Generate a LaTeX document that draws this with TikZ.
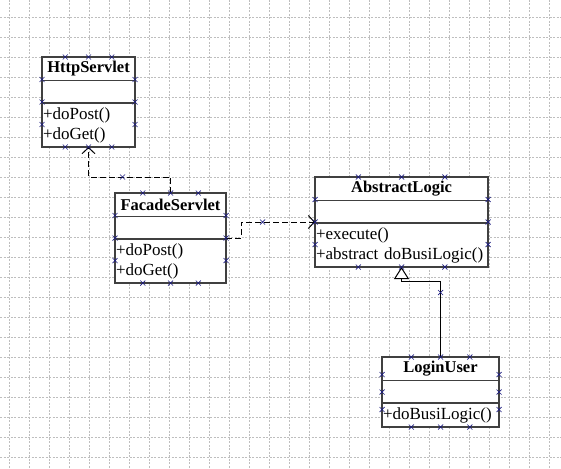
\documentclass[tikz,border=0pt]{standalone}
\usepackage{fontspec}
\setmainfont{Liberation Serif}
\usetikzlibrary{positioning}
\usetikzlibrary{calc}
\usetikzlibrary{arrows.meta}
\usetikzlibrary{decorations.markings}
\usetikzlibrary{fit}
\definecolor{boxgray}{RGB}{64,64,64}
\definecolor{handleblue}{RGB}{28,28,128}
\definecolor{gridgray}{RGB}{190,190,190}

\tikzset{
    handle/.style={draw=handleblue, line width=0.7pt, solid, -},
    midhandle/.style={postaction={decorate}, decoration={markings,
        mark=at position 0.5 with {\draw[handle] (-2.5,-2.5) -- (2.5,2.5) (-2.5,2.5) -- (2.5,-2.5);}}},
}
\newcommand{\handlemark}[1]{\draw[handle] (#1) +(-2.5,-2.5) -- +(2.5,2.5) +(-2.5,2.5) -- +(2.5,-2.5);}

\begin{document}
\begin{tikzpicture}[x=1pt, y=-1pt,
    every node/.style={font=\fontsize{17}{20}\selectfont, inner sep=0pt, outer sep=0pt},
    classname/.style={draw=boxgray, line width=1.3pt, fill=white, font=\fontsize{16.5}{20}\selectfont\bfseries, minimum height=23.5},
    classattr/.style={draw=boxgray, line width=1.3pt, fill=white, minimum height=22.5},
    classops/.style={draw=boxgray, line width=1.3pt, fill=white, align=left, inner xsep=1pt},
    gridline/.style={draw=gridgray, line width=0.6pt, dash pattern=on 2pt off 1.5pt},
    depend/.style={draw=black, line width=1pt, dash pattern=on 6pt off 3pt, -{Straight Barb[length=6pt, width=13pt]}, midhandle},
    inherit/.style={draw=black, line width=1pt, -{Triangle[open, length=12pt, width=15pt, fill=white]}, midhandle}]

        \useasboundingbox (0,0) rectangle (561,468);

        % Grid
        \foreach \x in {9,29,...,549} \draw[gridline] (\x,0) -- (\x,468);
        \foreach \y in {17,37,...,457} \draw[gridline] (0,\y) -- (561,\y);

        % HttpServlet
        \node[classname, minimum width=93, anchor=north west] (http) at (42,57) {HttpServlet};
        \node[classattr, minimum width=93, below=0pt of http] (http-a) {};
        \node[classops, text width=91, minimum height=44, below=0pt of http-a] (http-m) {+doPost()\\+doGet()};
        \node[fit=(http)(http-m)] (http-box) {};

        % FacadeServlet
        \node[classname, minimum width=111, anchor=north west] (facade) at (115,193) {FacadeServlet};
        \node[classattr, minimum width=111, below=0pt of facade] (facade-a) {};
        \node[classops, text width=109, minimum height=44, below=0pt of facade-a] (facade-m) {+doPost()\\+doGet()};
        \node[fit=(facade)(facade-m)] (facade-box) {};

        % AbstractLogic
        \node[classname, minimum width=173, anchor=north west] (logic) at (315,177) {AbstractLogic};
        \node[classattr, minimum width=173, below=0pt of logic] (logic-a) {};
        \node[classops, text width=171, minimum height=44, below=0pt of logic-a] (logic-m) {+execute()\\+abstract doBusiLogic()};
        \node[fit=(logic)(logic-m)] (logic-box) {};

        % LoginUser
        \node[classname, minimum width=117, anchor=north west] (login) at (382,357) {LoginUser};
        \node[classattr, minimum width=117, below=0pt of login] (login-a) {};
        \node[classops, text width=115, minimum height=24, below=0pt of login-a] (login-m) {+doBusiLogic()};
        \node[fit=(login)(login-m)] (login-box) {};

        % Connectors
        \draw[depend] (facade-box.north) -- ++(0,-16) -| (http-box.south);
        \draw[depend] (facade-box.east) -- ++(15,0) |- (logic-box.west);
        \draw[inherit] (login-box.north) -- ++(0,-76) -| (logic-box.south);

        % Handles
        \foreach \b in {http,facade,logic,login}
            \foreach \f in {0.25,0.5,0.75} {
                \handlemark{$(\b-box.north west)!\f!(\b-box.north east)$}
                \handlemark{$(\b-box.south west)!\f!(\b-box.south east)$}
                \handlemark{$(\b-box.north west)!\f!(\b-box.south west)$}
                \handlemark{$(\b-box.north east)!\f!(\b-box.south east)$}
            }

    \end{tikzpicture}
\end{document}
